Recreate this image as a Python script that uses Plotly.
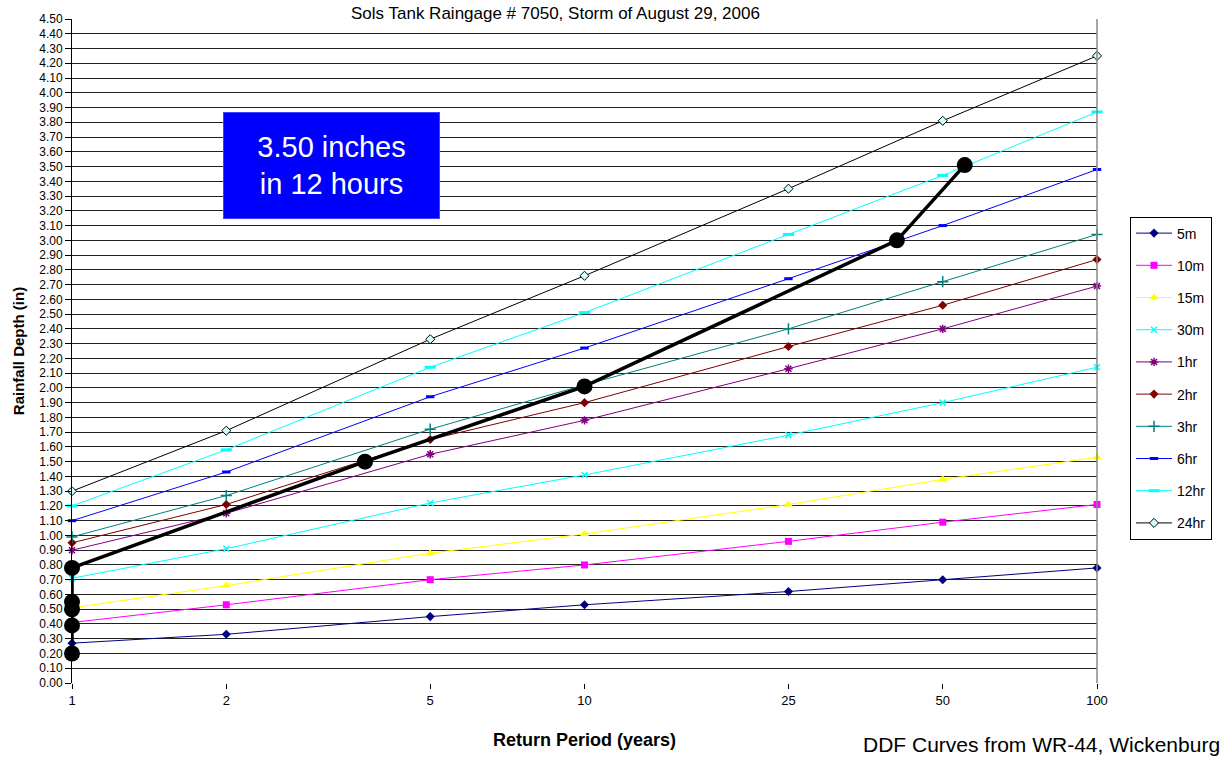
import plotly.graph_objects as go

return_periods = [1, 2, 5, 10, 25, 50, 100]
tick_labels = ["1", "2", "5", "10", "25", "50", "100"]

d_5m = [0.27, 0.33, 0.45, 0.53, 0.62, 0.70, 0.78]
d_10m = [0.41, 0.53, 0.70, 0.80, 0.96, 1.09, 1.21]
d_15m = [0.51, 0.66, 0.88, 1.01, 1.21, 1.38, 1.53]
d_30m = [0.71, 0.91, 1.22, 1.41, 1.68, 1.90, 2.14]
d_1hr = [0.90, 1.15, 1.55, 1.78, 2.13, 2.40, 2.69]
d_2hr = [0.95, 1.21, 1.65, 1.90, 2.28, 2.56, 2.87]
d_3hr = [0.99, 1.27, 1.72, 2.02, 2.40, 2.72, 3.04]
d_6hr = [1.10, 1.43, 1.94, 2.27, 2.74, 3.10, 3.48]
d_12hr = [1.20, 1.58, 2.14, 2.51, 3.04, 3.44, 3.87]
d_24hr = [1.30, 1.71, 2.33, 2.76, 3.35, 3.81, 4.25]

storm_rp = [1, 1, 1, 1, 1, 3.73, 10, 40.7, 55.2]
storm_depth = [0.20, 0.39, 0.50, 0.55, 0.78, 1.50, 2.01, 3.00, 3.51]

series = [
    ("5m", d_5m, "#000080", dict(symbol="diamond", size=7, color="#000080")),
    ("10m", d_10m, "#FF00FF", dict(symbol="square", size=7, color="#FF00FF")),
    ("15m", d_15m, "#FFFF00", dict(symbol="triangle-up", size=8, color="#FFFF00")),
    ("30m", d_30m, "#00FFFF", dict(symbol="x-thin", size=6, color="#00FFFF",
                                    line=dict(color="#00FFFF", width=1.5))),
    ("1hr", d_1hr, "#800080", dict(symbol="asterisk", size=7, color="#800080",
                                    line=dict(color="#800080", width=1.5))),
    ("2hr", d_2hr, "#800000", dict(symbol="diamond", size=7, color="#800000")),
    ("3hr", d_3hr, "#008080", dict(symbol="cross-thin", size=8, color="#008080",
                                    line=dict(color="#008080", width=1.5))),
    ("6hr", d_6hr, "#0000FF", dict(symbol="line-ew", size=6, color="#0000FF",
                                    line=dict(color="#0000FF", width=3))),
    ("12hr", d_12hr, "#00FFFF", dict(symbol="line-ew", size=8, color="#00FFFF",
                                      line=dict(color="#00FFFF", width=3))),
    ("24hr", d_24hr, "#000000", dict(symbol="diamond", size=7, color="#CCFFFF",
                                      line=dict(color="#000000", width=1))),
]

fig = go.Figure()
for name, vals, col, mk in series:
    fig.add_trace(go.Scatter(
        x=return_periods, y=vals, name=name, mode="lines+markers",
        line=dict(color=col, width=1), marker=mk, legendgroup=name,
        cliponaxis=False,
    ))

fig.add_trace(go.Scatter(
    x=storm_rp, y=storm_depth, mode="lines+markers", showlegend=False,
    line=dict(color="black", width=3.5),
    marker=dict(symbol="circle", size=16, color="black"),
    cliponaxis=False,
))

L, R, T, B = 72, 133, 14, 76
W, H = 1230, 759
PW, PH = W - L - R, H - T - B


def px(xp):
    return (xp - L) / PW


def py(yp):
    return (H - B - yp) / PH


fig.update_layout(
    width=W, height=H,
    margin=dict(l=L, r=R, t=T, b=B),
    plot_bgcolor="white", paper_bgcolor="white",
    font=dict(family="Arial", color="black"),
    showlegend=True,
    legend=dict(
        x=px(1130), y=py(213),
        xanchor="left", yanchor="top",
        bordercolor="black", borderwidth=1, bgcolor="white",
        font=dict(size=14, family="Arial"), tracegroupgap=11,
        itemwidth=36,
    ),
    xaxis=dict(
        type="log", range=[0, 2],
        tickvals=return_periods, ticktext=tick_labels,
        showgrid=False, zeroline=False,
        ticks="outside", ticklen=5, tickcolor="black",
        tickfont=dict(size=13, family="Arial"),
        showline=False,
        title=dict(text="<b>Return Period (years)</b>", font=dict(size=18), standoff=26),
    ),
    yaxis=dict(
        range=[0, 4.5], dtick=0.1, tick0=0, tickformat=".2f",
        showgrid=True, gridcolor="#222222", gridwidth=1.2,
        zeroline=False, showline=True, linecolor="black", linewidth=1,
        ticks="outside", ticklen=6, tickcolor="black",
        tickfont=dict(size=12, family="Arial"),
        title=dict(text="<b>Rainfall Depth (in)</b>", font=dict(size=15), standoff=10),
    ),
)

# right plot-area border
fig.add_shape(type="line", xref="paper", yref="paper", x0=1, x1=1, y0=0, y1=1,
              line=dict(color="#888888", width=1.5))

fig.add_annotation(
    xref="paper", yref="paper", x=px(331), y=py(162),
    xanchor="center", yanchor="middle",
    text="3.50 inches<br>in 12 hours", showarrow=False,
    font=dict(size=29, color="white", family="Arial"),
    bgcolor="#0000FF", bordercolor="#4040FF", borderwidth=1,
    width=213, height=103, align="center", valign="middle",
)

fig.add_annotation(
    xref="paper", yref="paper", x=px(555), y=py(-3),
    text="Sols Tank Raingage # 7050, Storm of August 29, 2006", showarrow=False,
    font=dict(size=17, family="Arial"), xanchor="center", yanchor="top",
)

fig.add_annotation(
    xref="paper", yref="paper", x=px(1222), y=py(745),
    text="DDF Curves from WR-44, Wickenburg", showarrow=False,
    font=dict(size=21, family="Arial"), xanchor="right", yanchor="middle",
)

fig.write_html("out.html", config={"displayModeBar": False},
               post_script="document.body.style.margin='0';")
